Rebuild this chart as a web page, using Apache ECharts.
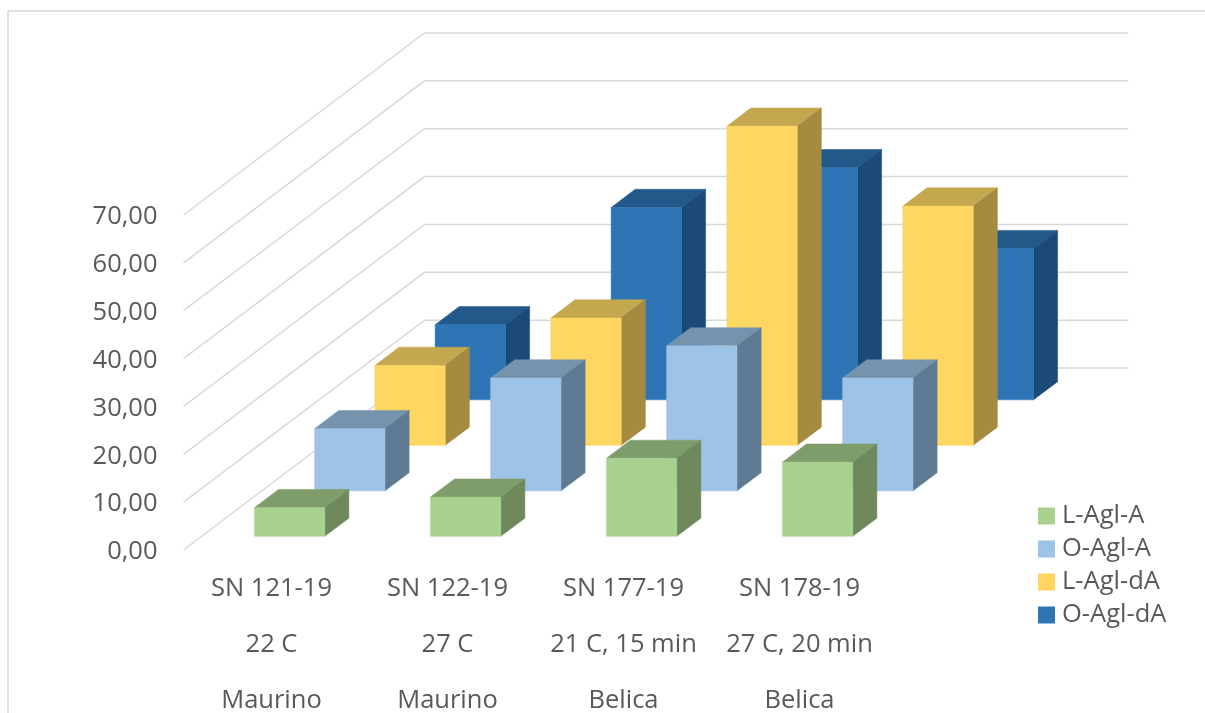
<!DOCTYPE html>
<html>
<head>
<meta charset="utf-8">
<style>html,body{margin:0;padding:0;background:#fff;overflow:hidden}#c{width:1205px;height:713px}</style>
<script src="https://cdn.jsdelivr.net/npm/echarts@6/dist/echarts.min.js"></script>
</head>
<body>
<div id="c"></div>
<script>
const categories = ['SN 121-19\n22 C\nMaurino','SN 122-19\n27 C\nMaurino','SN 177-19\n21 C, 15 min\nBelica','SN 178-19\n27 C, 20 min\nBelica'];
const yTicks = [0,10,20,30,40,50,60,70];
const lAglA = [6.0, 8.2, 16.3, 15.5];
const oAglA = [13.0, 23.6, 30.3, 23.6];
const lAglDA = [16.7, 26.6, 66.7, 50.0];
const oAglDA = [15.7, 40.2, 48.5, 31.6];

const DEPTH_X = 241, DEPTH_Y = -182, SLOTS = 4;
const GREY = '#D9D9D9', TEXT = '#595959', FONT = '"Open Sans"';

function box(colors, slot) {
  return function (params, api) {
    const idx = api.value(0), val = api.value(1);
    const band = api.size([1, 0])[0];
    const w = band * 0.4;
    const base = api.coord([idx, 0]), top = api.coord([idx, val]);
    const ox = DEPTH_X * (slot + 0.3) / SLOTS, oy = DEPTH_Y * (slot + 0.3) / SLOTS;
    const dx = DEPTH_X * 0.4 / SLOTS, dy = DEPTH_Y * 0.4 / SLOTS;
    const l = base[0] - w / 2 + ox, r = l + w, b = base[1] + oy, t = top[1] + oy;
    const poly = (pts, fill) => ({type:'polygon', shape:{points:pts}, style:{fill:fill, stroke:fill, lineWidth:0.5}});
    return {type:'group', children:[
      poly([[l,t],[r,t],[r+dx,t+dy],[l+dx,t+dy]], colors[1]),
      poly([[r,t],[r+dx,t+dy],[r+dx,b+dy],[r,b]], colors[2]),
      poly([[l,t],[r,t],[r,b],[l,b]], colors[0])
    ]};
  };
}
function barSeries(name, values, colors, slot) {
  return {
    name: name, type:'custom', z: 6 - slot,
    itemStyle:{color:colors[0]},
    renderItem: box(colors, slot),
    encode:{x:0,y:1},
    data: values.map((v,i)=>[i,v])
  };
}
const wall = {
  name:'wall', type:'custom', z:1, silent:true,
  renderItem:function(params, api){
    const cs = params.coordSys;
    const y = api.coord([0, api.value(1)])[1];
    const x0 = cs.x, x1 = x0 + DEPTH_X, x2 = x1 + cs.width, yb = y + DEPTH_Y;
    return {type:'polyline', shape:{points:[[x0,y],[x1,yb],[x2,yb]]}, style:{fill:null, stroke:GREY, lineWidth:1.5}};
  },
  encode:{x:0,y:1},
  data: yTicks.map(v=>[0,v])
};

const chart = echarts.init(document.getElementById('c'), null, {renderer:'canvas'});
chart.setOption({
  animation:false,
  backgroundColor:'#fff',
  grid:{left:183.5, top:215, width:704, height:335, outerBoundsMode:'none', containLabel:false},
  graphic:[{type:'polyline', silent:true, shape:{points:[[8,713],[8,11],[1205,11]]}, style:{fill:null, stroke:GREY, lineWidth:1.5}}],
  legend:{
    orient:'vertical', left:1033, top:498, itemWidth:17, itemHeight:17, itemGap:7, icon:'rect',
    data:['L-Agl-A','O-Agl-A','L-Agl-dA','O-Agl-dA'],
    textStyle:{fontFamily:FONT, fontSize:25.5, color:TEXT, lineHeight:24, padding:[0,0,0,2]}
  },
  xAxis:{type:'category', data:categories,
    axisLine:{show:false}, axisTick:{show:false}, splitLine:{show:false},
    axisLabel:{interval:0, margin:11, fontFamily:FONT, fontSize:25.5, color:TEXT, lineHeight:56, hideOverlap:false}},
  yAxis:{type:'value', min:0, max:70, interval:10,
    axisLine:{show:false}, axisTick:{show:false}, splitLine:{show:false},
    axisLabel:{margin:26, fontFamily:FONT, fontSize:25.5, color:TEXT, verticalAlign:'top', lineHeight:4,
      formatter:v=>v.toFixed(2).replace('.',',')}},
  series:[
    wall,
    barSeries('L-Agl-A', lAglA, ['#A9D18E','#7F9D6B','#6E8A5C'], 0),
    barSeries('O-Agl-A', oAglA, ['#9DC3E6','#7693AD','#5F7A95'], 1),
    barSeries('L-Agl-dA', lAglDA, ['#FFD65F','#C4A84F','#A48B40'], 2),
    barSeries('O-Agl-dA', oAglDA, ['#2E75B6','#22588A','#1B4A78'], 3)
  ]
});
</script>
</body>
</html>
